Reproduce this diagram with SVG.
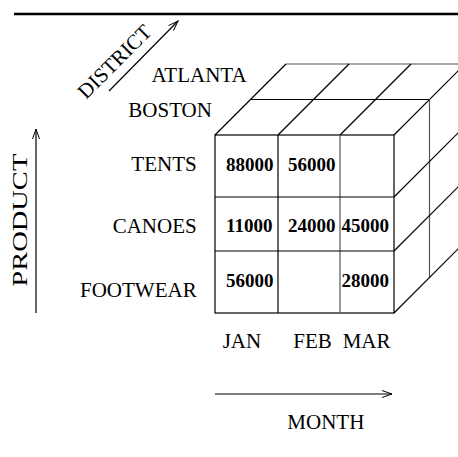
<svg xmlns="http://www.w3.org/2000/svg" width="458" height="457" viewBox="0 0 458 457">
<defs>
<style>
.lbl{font-family:"Liberation Serif","Times New Roman",serif;font-size:21px;fill:#000}
.num{font-family:"Liberation Serif","Times New Roman",serif;font-size:19px;font-weight:bold;fill:#000}
.ln{stroke:#000;stroke-width:1.2;fill:none}
.lg{stroke:#555;stroke-width:1.2;fill:none}
</style>
<marker id="ah" markerWidth="12" markerHeight="10" refX="11" refY="5" orient="auto" markerUnits="userSpaceOnUse">
<path d="M1,1.5 L11,5 L1,8.5" fill="none" stroke="#000" stroke-width="1"/>
</marker>
</defs>
<rect width="458" height="457" fill="#fff"/>
<line x1="14" y1="14" x2="458" y2="14" stroke="#000" stroke-width="2.6"/>

<g id="cube">
<g id="front-face" class="ln">
<rect x="215" y="135" width="179" height="178"/>
<line x1="278" y1="135" x2="278" y2="313"/>
<line x1="340" y1="135" x2="340" y2="313" class="lg"/>
<line x1="215" y1="197" x2="394" y2="197"/>
<line x1="215" y1="251" x2="394" y2="251"/>
</g>
<g id="top-face" class="ln">
<line x1="250.5" y1="99.5" x2="429.5" y2="99.5"/>
<line x1="286" y1="64" x2="465" y2="64" class="lg"/>
<line x1="215" y1="135" x2="286" y2="64"/>
<line x1="278" y1="135" x2="349" y2="64"/>
<line x1="340" y1="135" x2="411" y2="64"/>
<line x1="394" y1="135" x2="465" y2="64"/>
</g>
<g id="right-face" class="ln">
<line x1="429.5" y1="99.5" x2="429.5" y2="277.5" class="lg"/>
<line x1="394" y1="197" x2="465" y2="126"/>
<line x1="394" y1="251" x2="465" y2="180"/>
<line x1="394" y1="313" x2="465" y2="242"/>
</g>
<g id="values">
<text class="num" x="226" y="171">88000</text>
<text class="num" x="288" y="171">56000</text>
<text class="num" x="226" y="232">11000</text>
<text class="num" x="288" y="232">24000</text>
<text class="num" x="341.5" y="232">45000</text>
<text class="num" x="226" y="287">56000</text>
<text class="num" x="341.5" y="287">28000</text>
</g>
</g>

<g id="district-axis">
<text class="lbl" transform="translate(86,100) rotate(-45)">DISTRICT</text>
<line x1="109" y1="91" x2="178" y2="21" class="ln" marker-end="url(#ah)"/>
<text class="lbl" x="151.5" y="82.3">ATLANTA</text>
<text class="lbl" x="128.3" y="117.3">BOSTON</text>
</g>

<g id="product-axis">
<text class="lbl" transform="translate(27.3,286.7) rotate(-90)" textLength="133" lengthAdjust="spacingAndGlyphs">PRODUCT</text>
<line x1="36" y1="313" x2="36" y2="129" class="ln" marker-end="url(#ah)"/>
<text class="lbl" x="196.7" y="170.7" text-anchor="end">TENTS</text>
<text class="lbl" x="196.7" y="233.3" text-anchor="end">CANOES</text>
<text class="lbl" x="196.7" y="296.7" text-anchor="end">FOOTWEAR</text>
</g>

<g id="month-axis">
<text class="lbl" x="222.7" y="348.3">JAN</text>
<text class="lbl" x="293.3" y="348.3">FEB</text>
<text class="lbl" x="342.7" y="348.3">MAR</text>
<line x1="215" y1="394" x2="392" y2="394" class="ln" marker-end="url(#ah)"/>
<text class="lbl" x="287.3" y="429">MONTH</text>
</g>
</svg>
